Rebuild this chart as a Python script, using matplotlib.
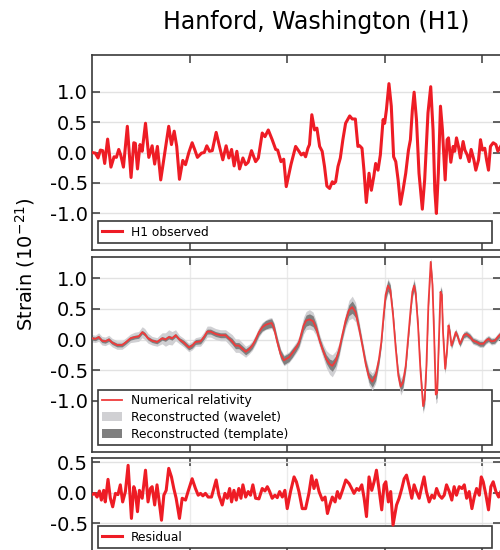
import matplotlib
matplotlib.use("Agg")
import matplotlib.pyplot as plt
import numpy as np

plt.rcParams['font.family'] = ['DejaVu Sans']
plt.rcParams['axes.unicode_minus'] = False

title = "Hanford, Washington (H1)"
ylabel = "Strain (10$^{\\mathrm{-21}}$)"

# ---- Panel 1: H1 observed ----
h1_time = [0.2500, 0.2517, 0.2531, 0.2543, 0.2555, 0.2565, 0.2580, 0.2597, 0.2613, 0.2625,
           0.2637, 0.2647, 0.2661, 0.2681, 0.2700, 0.2714, 0.2722, 0.2733, 0.2746, 0.2757,
           0.2774, 0.2791, 0.2808, 0.2821, 0.2835, 0.2852, 0.2873, 0.2893, 0.2907, 0.2921,
           0.2934, 0.2948, 0.2965, 0.2979, 0.2996, 0.3013, 0.3027, 0.3040, 0.3061, 0.3075,
           0.3088, 0.3102, 0.3116, 0.3136, 0.3153, 0.3170, 0.3187, 0.3201, 0.3215, 0.3228,
           0.3242, 0.3256, 0.3273, 0.3287, 0.3300, 0.3317, 0.3338, 0.3352, 0.3372, 0.3386,
           0.3403, 0.3423, 0.3441, 0.3451, 0.3468, 0.3482, 0.3495, 0.3519, 0.3543,
           0.3560, 0.3572, 0.3584, 0.3594, 0.3606, 0.3614, 0.3626, 0.3640, 0.3652, 0.3666,
           0.3679, 0.3691, 0.3703, 0.3717, 0.3731, 0.3739, 0.3748, 0.3760, 0.3772, 0.3785,
           0.3799, 0.3820, 0.3833, 0.3849, 0.3862, 0.3871, 0.3883, 0.3893, 0.3905, 0.3919,
           0.3931, 0.3943, 0.3953, 0.3965, 0.3977, 0.3991, 0.3999, 0.4008, 0.4021, 0.4033,
           0.4045, 0.4056, 0.4068, 0.4080, 0.4093, 0.4107, 0.4121, 0.4131, 0.4141, 0.4150,
           0.4162, 0.4175, 0.4192, 0.4204, 0.4221, 0.4235, 0.4247, 0.4256, 0.4264, 0.4274,
           0.4285, 0.4295, 0.4309, 0.4319, 0.4326, 0.4338, 0.4350, 0.4358, 0.4367, 0.4377,
           0.4387, 0.4401, 0.4410, 0.4422, 0.4432, 0.4442, 0.4456, 0.4466, 0.4480, 0.4490,
           0.4500, 0.4512, 0.4521, 0.4531, 0.4541, 0.4555, 0.4569, 0.4579, 0.4593]
h1_strain = [0.00, -0.01, -0.09, 0.04, 0.03, -0.18, 0.22, -0.24, -0.07, -0.08,
             0.05, -0.04, -0.24, 0.43, -0.41, 0.16, 0.15, -0.27, 0.13, 0.02,
             0.48, -0.08, 0.11, -0.19, 0.10, -0.45, 0.00, 0.43, 0.13, 0.35,
             0.10, -0.44, -0.13, -0.20, 0.00, 0.16, 0.04, -0.08, -0.01, 0.00,
             0.11, 0.02, 0.03, 0.33, 0.10, -0.12, 0.11, -0.09, 0.05, -0.22,
             0.02, -0.27, -0.09, -0.20, -0.16, 0.03, -0.15, -0.09, 0.32, 0.26,
             0.37, 0.21, 0.05, 0.04, -0.15, -0.11, -0.56, -0.20, 0.10,
             0.02, -0.04, -0.01, -0.07, 0.07, 0.13, 0.62, 0.37, 0.40, 0.10,
             0.02, -0.23, -0.55, -0.59, -0.48, -0.51, -0.48, -0.23, -0.09, 0.21,
             0.48, 0.60, 0.55, 0.55, 0.10, 0.11, 0.07, -0.29, -0.82, -0.34,
             -0.62, -0.40, -0.18, -0.29, -0.04, 0.54, 0.48, 0.70, 1.13, 0.76,
             -0.07, -0.15, -0.45, -0.85, -0.62, -0.34, 0.04, 0.21, 0.70, 0.99,
             0.54, -0.34, -0.93, -0.45, 0.65, 1.08, 0.37, -0.62, -1.00, -0.34,
             0.76, 0.37, -0.45, 0.21, 0.24, -0.16, 0.10, 0.02, 0.24, 0.10,
             -0.09, 0.18, 0.04, -0.04, -0.15, 0.05, -0.12, -0.29, -0.12, 0.21,
             0.04, 0.07, -0.12, -0.29, 0.10, 0.16, 0.13, 0.02, 0.10]

# ---- Panel 2: numerical relativity and reconstructions ----
nr_time = [0.2500, 0.2517, 0.2534, 0.2551, 0.2568, 0.2586, 0.2603, 0.2628, 0.2654, 0.2671,
           0.2697, 0.2719, 0.2739, 0.2757, 0.2770, 0.2787, 0.2808, 0.2833, 0.2859, 0.2876,
           0.2893, 0.2910, 0.2928, 0.2948, 0.2970, 0.2996, 0.3013, 0.3030, 0.3056, 0.3073,
           0.3090, 0.3107, 0.3133, 0.3158, 0.3184, 0.3201, 0.3218, 0.3235, 0.3252, 0.3270,
           0.3287, 0.3304, 0.3321, 0.3338, 0.3355, 0.3372, 0.3389, 0.3406, 0.3420, 0.3432,
           0.3449, 0.3466, 0.3483, 0.3509, 0.3526,
           0.3546, 0.3560, 0.3572, 0.3584, 0.3597, 0.3614, 0.3632, 0.3649, 0.3666, 0.3683,
           0.3700, 0.3717, 0.3731, 0.3748, 0.3765, 0.3782, 0.3799, 0.3816, 0.3833, 0.3850,
           0.3867, 0.3885, 0.3902, 0.3919, 0.3936, 0.3953, 0.3970, 0.3982, 0.3994, 0.4004,
           0.4016, 0.4028, 0.4042, 0.4056, 0.4069, 0.4081, 0.4093, 0.4107, 0.4119, 0.4131,
           0.4141, 0.4150, 0.4158, 0.4170, 0.4182, 0.4196, 0.4204, 0.4213, 0.4223, 0.4235,
           0.4244, 0.4252, 0.4261, 0.4268, 0.4278, 0.4285, 0.4292, 0.4298, 0.4309, 0.4319,
           0.4326, 0.4333, 0.4341, 0.4350, 0.4363, 0.4374, 0.4384, 0.4392, 0.4404, 0.4418,
           0.4435, 0.4452, 0.4469, 0.4486, 0.4504, 0.4517, 0.4531, 0.4546, 0.4563, 0.4581, 0.4593]
nr_strain = [0.02, 0.01, 0.04, -0.02, -0.03, 0.00, -0.05, -0.09, -0.09, -0.05,
             0.02, 0.04, 0.05, 0.12, 0.09, 0.02, -0.02, -0.04, 0.02, 0.00,
             0.04, 0.02, 0.07, 0.00, -0.05, -0.13, -0.10, -0.04, -0.03, 0.04,
             0.13, 0.13, 0.09, 0.07, 0.07, 0.02, -0.03, -0.10, -0.10, -0.15,
             -0.20, -0.16, -0.10, 0.00, 0.12, 0.20, 0.24, 0.26, 0.27, 0.19,
             -0.04, -0.24, -0.34, -0.29, -0.22,
             -0.13, -0.05, 0.09, 0.23, 0.31, 0.33, 0.30, 0.18, -0.02, -0.18,
             -0.32, -0.40, -0.43, -0.35, -0.18, 0.07, 0.31, 0.48, 0.53, 0.45,
             0.20, -0.10, -0.40, -0.62, -0.69, -0.59, -0.32, -0.04, 0.40, 0.73,
             0.88, 0.81, 0.40, -0.15, -0.59, -0.77, -0.70, -0.43, 0.01, 0.45,
             0.78, 0.88, 0.75, 0.23, -0.48, -1.09, -0.98, -0.43, 0.56, 1.27,
             0.89, 0.12, -0.90, -0.87, 0.12, 0.78, 0.73, 0.12, -0.48, -0.15,
             0.23, 0.12, -0.10, -0.02, 0.12, 0.04, -0.07, -0.02, 0.07, 0.09,
             0.05, -0.02, -0.04, -0.07, -0.07, -0.02, 0.01, -0.03, -0.02, 0.05, 0.09]
wavelet_halfwidth = [0.06, 0.06, 0.07, 0.07, 0.07, 0.07, 0.07, 0.07, 0.07, 0.07,
                     0.07, 0.08, 0.08, 0.09, 0.09, 0.08, 0.07, 0.07, 0.09, 0.11,
                     0.12, 0.11, 0.09, 0.07, 0.07, 0.07, 0.07, 0.07, 0.08, 0.08,
                     0.09, 0.09, 0.09, 0.09, 0.09, 0.10, 0.11, 0.11, 0.11, 0.10,
                     0.09, 0.08, 0.08, 0.08, 0.08, 0.08, 0.08, 0.09, 0.09, 0.09,
                     0.09, 0.09, 0.09, 0.09, 0.09,
                     0.09, 0.10, 0.12, 0.14, 0.15, 0.16, 0.15, 0.12, 0.10, 0.11,
                     0.14, 0.17, 0.18, 0.16, 0.12, 0.10, 0.12, 0.16, 0.18, 0.16,
                     0.12, 0.10, 0.11, 0.13, 0.14, 0.13, 0.10, 0.09, 0.10, 0.12,
                     0.12, 0.11, 0.09, 0.09, 0.12, 0.14, 0.13, 0.10, 0.09, 0.10,
                     0.11, 0.12, 0.11, 0.09, 0.10, 0.12, 0.12, 0.10, 0.08, 0.07,
                     0.08, 0.10, 0.15, 0.15, 0.10, 0.10, 0.10, 0.09, 0.09, 0.08,
                     0.08, 0.08, 0.07, 0.06, 0.06, 0.06, 0.06, 0.06, 0.06, 0.06,
                     0.06, 0.06, 0.06, 0.06, 0.06, 0.06, 0.06, 0.06, 0.06, 0.06, 0.06]
template_halfwidth = [0.03, 0.03, 0.03, 0.03, 0.03, 0.03, 0.03, 0.03, 0.03, 0.03,
                      0.03, 0.03, 0.03, 0.03, 0.03, 0.03, 0.03, 0.03, 0.03, 0.03,
                      0.03, 0.03, 0.03, 0.03, 0.04, 0.04, 0.04, 0.04, 0.04, 0.04,
                      0.04, 0.04, 0.04, 0.04, 0.04, 0.04, 0.05, 0.05, 0.05, 0.05,
                      0.05, 0.05, 0.05, 0.05, 0.05, 0.06, 0.07, 0.07, 0.07, 0.07,
                      0.07, 0.07, 0.07, 0.07, 0.07,
                      0.06, 0.06, 0.07, 0.08, 0.09, 0.09, 0.09, 0.07, 0.06, 0.06,
                      0.07, 0.08, 0.09, 0.08, 0.07, 0.06, 0.07, 0.09, 0.10, 0.09,
                      0.07, 0.06, 0.07, 0.08, 0.09, 0.08, 0.07, 0.06, 0.07, 0.08,
                      0.09, 0.08, 0.07, 0.06, 0.07, 0.08, 0.08, 0.07, 0.06, 0.07,
                      0.07, 0.08, 0.07, 0.06, 0.07, 0.08, 0.08, 0.07, 0.06, 0.05,
                      0.06, 0.07, 0.08, 0.08, 0.07, 0.07, 0.07, 0.06, 0.06, 0.05,
                      0.05, 0.04, 0.04, 0.04, 0.04, 0.04, 0.04, 0.04, 0.04, 0.04,
                      0.04, 0.04, 0.04, 0.04, 0.04, 0.04, 0.04, 0.04, 0.04, 0.04, 0.04]

# ---- Panel 3: residual ----
res_time = [0.2500, 0.2514, 0.2526, 0.2538, 0.2548, 0.2560, 0.2568, 0.2582, 0.2594, 0.2606,
            0.2620, 0.2633, 0.2645, 0.2657, 0.2671, 0.2685, 0.2702, 0.2714, 0.2722, 0.2733,
            0.2743, 0.2757, 0.2774, 0.2787, 0.2799, 0.2808, 0.2821, 0.2833, 0.2842, 0.2856,
            0.2868, 0.2880, 0.2893, 0.2907, 0.2919, 0.2931, 0.2948, 0.2962, 0.2979, 0.2992,
            0.3013, 0.3030, 0.3044, 0.3056, 0.3068, 0.3081, 0.3095, 0.3112, 0.3136, 0.3150,
            0.3167, 0.3181, 0.3193, 0.3205, 0.3215, 0.3227, 0.3239, 0.3252, 0.3263, 0.3273,
            0.3287, 0.3300, 0.3312, 0.3324, 0.3338, 0.3355, 0.3372, 0.3386, 0.3398, 0.3410,
            0.3423, 0.3437, 0.3449, 0.3461, 0.3475, 0.3488, 0.3500, 0.3517, 0.3535, 0.3547,
            0.3560, 0.3577, 0.3594, 0.3611, 0.3625, 0.3637, 0.3649, 0.3663, 0.3680, 0.3694,
            0.3706, 0.3718, 0.3731, 0.3745, 0.3757, 0.3769, 0.3783, 0.3800, 0.3817, 0.3830,
            0.3842, 0.3856, 0.3868, 0.3882, 0.3894, 0.3906, 0.3919, 0.3933, 0.3945, 0.3957,
            0.3971, 0.3984, 0.3996, 0.4005, 0.4018, 0.4030, 0.4042, 0.4060, 0.4073, 0.4087,
            0.4099, 0.4111, 0.4125, 0.4138, 0.4150, 0.4162, 0.4176, 0.4189, 0.4201, 0.4213,
            0.4227, 0.4241, 0.4253, 0.4265, 0.4278, 0.4292, 0.4304, 0.4316, 0.4330, 0.4343,
            0.4355, 0.4367, 0.4381, 0.4395, 0.4407, 0.4419, 0.4432, 0.4446, 0.4458, 0.4470,
            0.4484, 0.4494, 0.4504, 0.4518, 0.4531, 0.4543, 0.4555, 0.4569, 0.4583, 0.4593]
res_strain = [-0.03, -0.01, -0.07, 0.03, -0.12, 0.04, -0.15, 0.22, -0.09, -0.23,
              -0.01, -0.03, 0.13, -0.15, 0.02, 0.45, -0.42, 0.10, 0.02, -0.31,
              0.04, -0.09, 0.37, -0.15, 0.07, 0.10, -0.20, 0.13, -0.09, -0.45,
              -0.04, 0.04, 0.40, 0.26, 0.07, -0.09, -0.42, -0.09, -0.12, 0.02,
              0.23, 0.07, -0.04, -0.01, -0.05, -0.01, -0.07, -0.07, 0.21, -0.04,
              -0.20, -0.01, -0.09, 0.07, -0.15, 0.04, -0.12, 0.07, -0.09, 0.13,
              -0.07, 0.02, -0.04, 0.13, -0.09, -0.10, 0.07, 0.03, 0.10, 0.02,
              -0.09, -0.04, -0.08, 0.02, -0.07, 0.04, -0.26, 0.02, 0.26, 0.18,
              0.02, -0.26, -0.26, -0.01, 0.28, 0.07, 0.21, 0.02, -0.12, -0.07,
              -0.34, -0.20, -0.07, -0.15, 0.02, -0.09, 0.04, 0.21, 0.15, 0.07,
              -0.01, 0.07, 0.04, 0.13, -0.09, -0.39, 0.26, 0.04, 0.18, 0.37,
              0.04, -0.28, 0.13, 0.18, -0.15, 0.02, -0.53, -0.20, -0.09, 0.07,
              0.23, 0.29, 0.10, -0.09, 0.13, 0.02, -0.09, 0.10, 0.26, 0.02,
              -0.15, -0.04, -0.09, 0.07, -0.04, -0.09, -0.04, 0.13, 0.02, -0.12,
              0.10, -0.04, 0.10, 0.07, 0.13, -0.09, 0.02, -0.26, -0.07, 0.07,
              -0.04, 0.26, 0.18, -0.04, -0.28, 0.10, 0.18, 0.02, -0.07, 0.01]

xticks = [0.30, 0.35, 0.40, 0.45]
yticks_main = [-1.0, -0.5, 0.0, 0.5, 1.0]
yticks_res = [-0.5, 0.0, 0.5]

RED = '#ee1c25'
SPINE = '#3a3a3a'

fig = plt.figure(figsize=(5, 5.5), dpi=100)
W, H = 500.0, 550.0
left, right = 92 / W, 501 / W

def make_axes(top_px, bot_px):
    return fig.add_axes([left, 1 - bot_px / H, right - left, (bot_px - top_px) / H])

ax1 = make_axes(55, 250)
ax2 = make_axes(257, 452)
ax3 = make_axes(458, 555)

def style(ax, ylim, yticks, xgrid=True):
    ax.set_xlim(0.25, 0.4595)
    ax.set_ylim(*ylim)
    ax.set_xticks(xticks)
    ax.set_yticks(yticks)
    ax.set_yticklabels([f"{v:.1f}" for v in yticks])
    ax.tick_params(axis='both', direction='in', length=6, width=1.1, color=SPINE,
                   top=True, right=True, labelbottom=False, labelsize=14, pad=3)
    ax.grid(True, axis='y', color='#e2e2e2', linewidth=1.0)
    if xgrid:
        ax.grid(True, axis='x', color='#ebebeb', linewidth=1.0)
    ax.set_axisbelow(True)
    for s in ax.spines.values():
        s.set_color(SPINE)
        s.set_linewidth(1.2)

def legend(ax, bottom):
    leg = ax.legend(loc='lower left', bbox_to_anchor=(0.015, bottom, 0.963, 0.0),
                    mode='expand', fontsize=8.8, frameon=True, fancybox=False,
                    framealpha=1.0, edgecolor=SPINE, handlelength=1.6,
                    handletextpad=0.7, borderpad=0.35, labelspacing=0.3,
                    borderaxespad=0.0)
    leg.get_frame().set_linewidth(1.2)
    leg.set_zorder(1.5)
    return leg

# Panel 1
ax1.plot(h1_time, h1_strain, color=RED, lw=2.2, solid_joinstyle='round', zorder=3,
         label='H1 observed')
style(ax1, (-1.6, 1.6), yticks_main, xgrid=False)
legend(ax1, 0.036)

# Panel 2
nr = np.array(nr_strain)
wv = np.array(wavelet_halfwidth)
tp = np.array(template_halfwidth)
ax2.plot(nr_time, nr, color='#ef3b3b', lw=1.3, zorder=4, label='Numerical relativity')
ax2.fill_between(nr_time, nr - wv, nr + wv, color='#d0d0d3', lw=0, zorder=2,
                 label='Reconstructed (wavelet)')
ax2.fill_between(nr_time, nr - tp, nr + tp, color='#7f7f7f', lw=0, zorder=3,
                 label='Reconstructed (template)')
style(ax2, (-1.84, 1.35), yticks_main)
legend(ax2, 0.036)

# Panel 3
ax3.plot(res_time, res_strain, color=RED, lw=2.2, solid_joinstyle='round', zorder=3,
         label='Residual')
style(ax3, (-1.02, 0.57), yticks_res)
legend(ax3, 0.072)

fig.text(0.632, 0.96, title, ha='center', va='center', fontsize=17)
fig.text(0.05, 0.52, ylabel, ha='center', va='center', rotation=90, fontsize=14)

fig.savefig('out.png', dpi=100)
